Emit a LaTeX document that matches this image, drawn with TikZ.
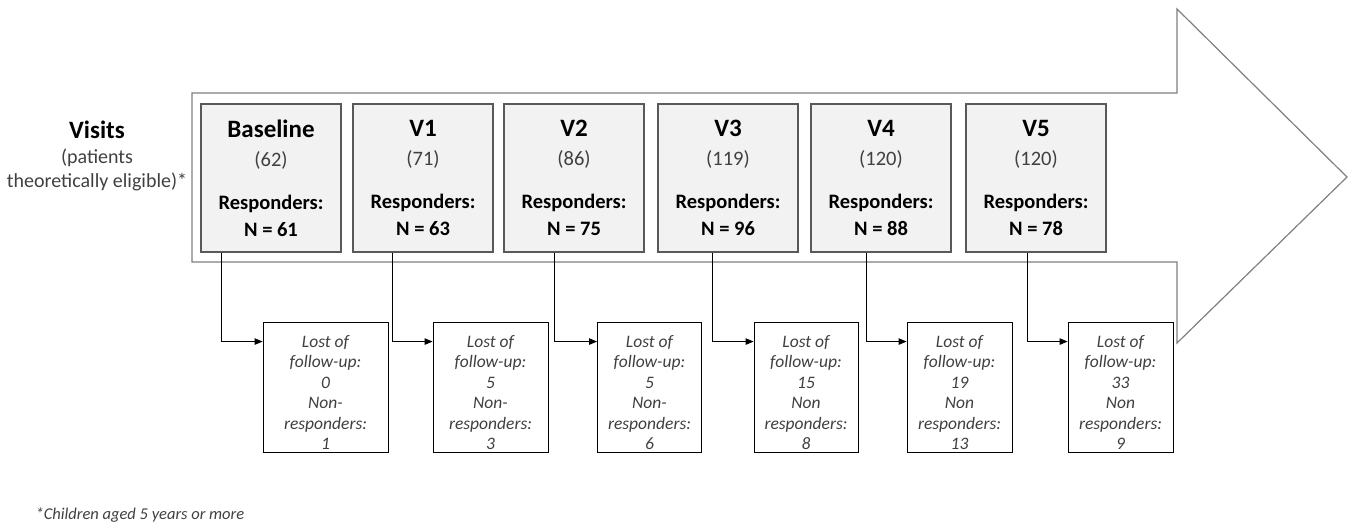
\documentclass[tikz,border=0pt]{standalone}
\usepackage{fontspec}
\setmainfont{Carlito}
\usetikzlibrary{arrows.meta}
\definecolor{boxfill}{HTML}{F2F2F2}
\definecolor{boxline}{HTML}{595959}
\definecolor{arrowline}{HTML}{808080}
\definecolor{txtgray}{HTML}{404040}
\tikzset{
  vbox/.style={draw=boxline, fill=boxfill, line width=1.1pt, minimum height=148pt, inner sep=0pt, align=center,
     font=\fontsize{20.5}{27}\selectfont, text=black},
  lbox/.style={draw=black, fill=white, line width=0.9pt, minimum height=130pt, inner sep=0pt, align=center,
     font=\fontsize{17.5}{20.5}\selectfont\itshape, text=txtgray},
  conn/.style={draw=black, line width=0.9pt, -{Triangle[length=8pt,width=6.5pt]}},
  bigarrow/.style={draw=arrowline, line width=1.2pt, fill=white}
}
\newcommand{\vtitle}[1]{{\fontsize{25}{27}\selectfont\bfseries #1}}
\newcommand{\vnum}[1]{{\color{txtgray}#1}}
\newcommand{\losttext}[3]{\rule{0pt}{23pt}Lost of\\follow-up:\\#1\\#2\\responders:\\#3}
\begin{document}
\begin{tikzpicture}[x=1pt,y=-1pt]
\useasboundingbox (0,0) rectangle (1355,528);
% big arrow
\draw[bigarrow] (192,93) -- (1177,93) -- (1177,9) -- (1347,177) -- (1177,343) -- (1177,262) -- (192,262) -- cycle;
% visits label
\node[align=center, font=\fontsize{20}{24}\selectfont, text=txtgray] (vis) at (97,156)
  {{\fontsize{25}{27}\selectfont\bfseries\color{black}Visits}\\[1pt](patients\\theoretically eligible)*};
% visit boxes
\node[vbox, minimum width=140pt] (b0) at (271,178) {\vtitle{Baseline}\\[2pt]\vnum{(62)}\\[16pt]\textbf{Responders:}\\\textbf{N = 61}};
\node[vbox, minimum width=140pt] (b1) at (423,178) {\vtitle{V1}\\[2pt]\vnum{(71)}\\[16pt]\textbf{Responders:}\\\textbf{N = 63}};
\node[vbox, minimum width=140pt] (b2) at (574,178) {\vtitle{V2}\\[2pt]\vnum{(86)}\\[16pt]\textbf{Responders:}\\\textbf{N = 75}};
\node[vbox, minimum width=140pt] (b3) at (728,178) {\vtitle{V3}\\[2pt]\vnum{(119)}\\[16pt]\textbf{Responders:}\\\textbf{N = 96}};
\node[vbox, minimum width=140pt] (b4) at (881,178) {\vtitle{V4}\\[2pt]\vnum{(120)}\\[16pt]\textbf{Responders:}\\\textbf{N = 88}};
\node[vbox, minimum width=140pt] (b5) at (1036,178) {\vtitle{V5}\\[2pt]\vnum{(120)}\\[16pt]\textbf{Responders:}\\\textbf{N = 78}};
% lost boxes
\node[lbox, minimum width=125pt] (l0) at (325.5,387) {\losttext{0}{Non-}{1}};
\node[lbox, minimum width=115pt] (l1) at (490.5,387) {\losttext{5}{Non-}{3}};
\node[lbox, minimum width=104pt] (l2) at (649.5,387) {\losttext{5}{Non-}{6}};
\node[lbox, minimum width=104pt] (l3) at (806,387) {\losttext{15}{Non}{8}};
\node[lbox, minimum width=105pt] (l4) at (959.5,387) {\losttext{19}{Non}{13}};
\node[lbox, minimum width=105pt] (l5) at (1120.5,387) {\losttext{33}{Non}{9}};
% connectors
\draw[conn] ([xshift=21pt]b0.south west) |- ([yshift=-20pt]l0.north west);
\draw[conn] ([xshift=40pt]b1.south west) |- ([yshift=-20pt]l1.north west);
\draw[conn] ([xshift=51pt]b2.south west) |- ([yshift=-20pt]l2.north west);
\draw[conn] ([xshift=55pt]b3.south west) |- ([yshift=-20pt]l3.north west);
\draw[conn] ([xshift=56pt]b4.south west) |- ([yshift=-20pt]l4.north west);
\draw[conn] ([xshift=62pt]b5.south west) |- ([yshift=-20pt]l5.north west);
% footnote
\node[anchor=west, font=\fontsize{16.5}{20}\selectfont\itshape, text=txtgray] (fn) at (32,515) {*Children aged 5 years or more};
\end{tikzpicture}
\end{document}
